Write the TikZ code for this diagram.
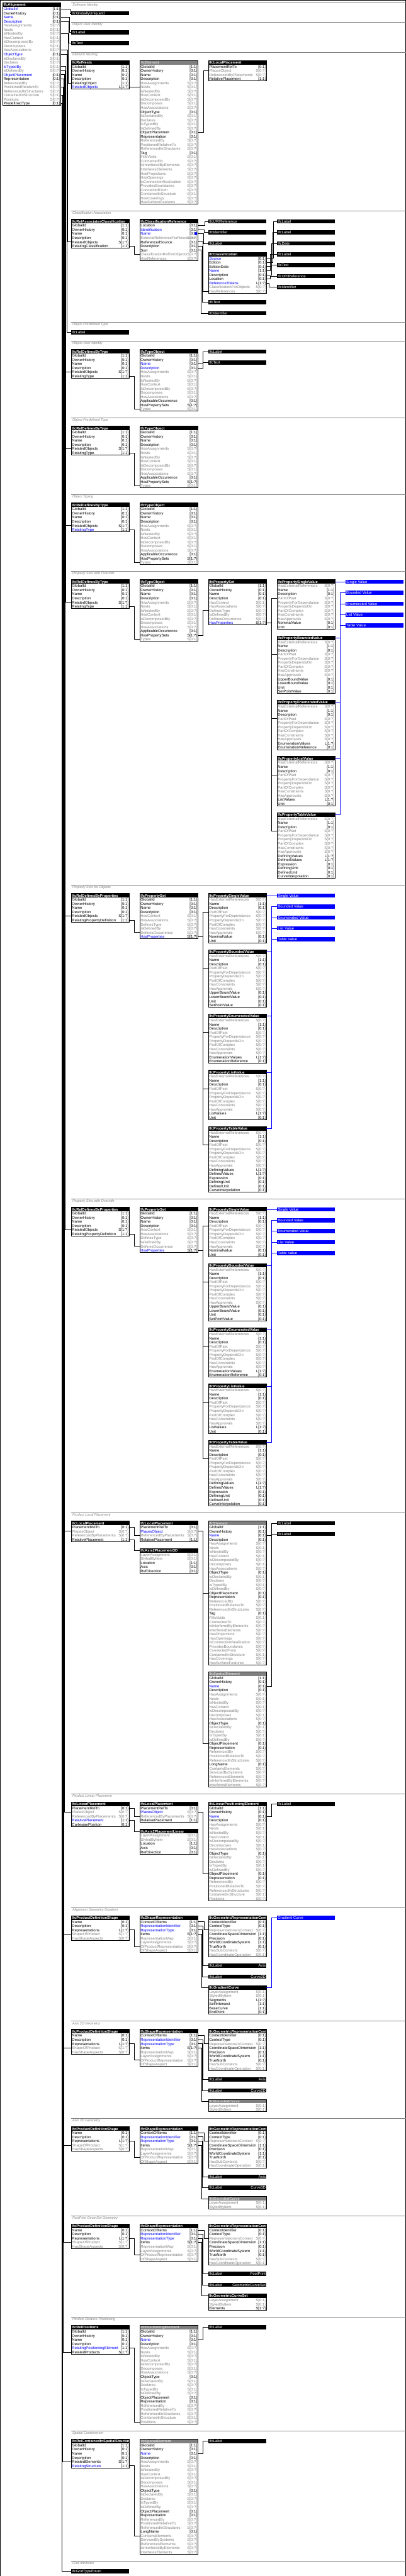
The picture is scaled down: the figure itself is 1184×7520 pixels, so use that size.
\documentclass[tikz,border=0pt]{standalone}
\usepackage{fontspec}
\setmainfont{Liberation Sans}
\definecolor{tgray}{RGB}{128,128,128}
\definecolor{hgray}{RGB}{128,128,128}
\definecolor{tlight}{RGB}{215,215,215}
\definecolor{pblue}{RGB}{0,0,255}
\def\NCk{\color{black}}\def\NCg{\color{tgray}}\def\NCb{\color{pblue}}\def\NCB{\color{pblue}}
\def\CCk{\color{black}}\def\CCg{\color{tgray}}\def\CCb{\color{black}}\def\CCB{\color{tgray}}
\newcommand\rfont{\fontsize{11}{12}\selectfont}
\newcommand\hfont{\fontsize{10.7}{12}\selectfont\bfseries}
\newcommand\stfont{\fontsize{10}{12}\selectfont\itshape}
\def\Lroot#1#2#3#4{GlobalId/[1:1]/#1,OwnerHistory/[0:1]/#2,Name/[0:1]/#3,Description/[0:1]/#4}
\def\Lobj{HasAssignments/S[0:?]/g,Nests/S[0:1]/g,IsNestedBy/S[0:?]/g,HasContext/S[0:1]/g,IsDecomposedBy/S[0:?]/g,Decomposes/S[0:1]/g,HasAssociations/S[0:?]/g}
\def\Lobjb{ObjectType/[0:1]/k,IsDeclaredBy/S[0:1]/g,Declares/S[0:?]/g,IsTypedBy/S[0:1]/g,IsDefinedBy/S[0:?]/g}
\def\Lprod{ObjectPlacement/[0:1]/k,Representation/[0:1]/k,ReferencedBy/S[0:?]/g,PositionedRelativeTo/S[0:?]/g,ReferencedInStructures/S[0:?]/g}
\def\Lelem{Tag/[0:1]/k,FillsVoids/S[0:1]/g,ConnectedTo/S[0:?]/g,IsInterferedByElements/S[0:?]/g,InterferesElements/S[0:?]/g,HasProjections/S[0:?]/g,HasOpenings/S[0:?]/g,IsConnectionRealization/S[0:?]/g,ProvidesBoundaries/S[0:?]/g,ConnectedFrom/S[0:?]/g,ContainedInStructure/S[0:1]/g,HasCoverings/S[0:?]/g,HasSurfaceFeatures/S[0:?]/g}
\def\Lspat{LongName/[0:1]/k,ContainsElements/S[0:?]/g,ServicedBySystems/S[0:?]/g,ReferencesElements/S[0:?]/g,IsInterferedByElements/S[0:?]/g,InterferesElements/S[0:?]/g}
\def\Lpos{ContainedInStructure/S[0:1]/g,Positions/S[0:?]/g}
\def\Ltype{ApplicableOccurrence/[0:1]/k,HasPropertySets/S[1:?]/k,Types/S[0:1]/g}
\def\Lpset{HasContext/S[0:1]/g,HasAssociations/S[0:?]/g,DefinesType/S[0:?]/g,IsDefinedBy/S[0:?]/g,DefinesOccurrence/S[0:?]/g,HasProperties/S[1:?]/b}
\def\Lprop{HasExternalReferences/S[0:?]/g,Name/[1:1]/k,Description/[0:1]/k,PartOfPset/S[0:?]/g,PropertyForDependance/S[0:?]/g,PropertyDependsOn/S[0:?]/g,PartOfComplex/S[0:?]/g,HasConstraints/S[0:?]/g,HasApprovals/S[0:?]/g}
\def\Llp{PlacementRelTo/[0:1]/k,PlacesObject/S[0:?]/g,ReferencedByPlacements/S[0:?]/g,RelativePlacement/[1:1]/k}
\def\Llpb{PlacementRelTo/[0:1]/k,PlacesObject/S[0:?]/B,ReferencedByPlacements/S[0:?]/g,RelativePlacement/[1:1]/k}
\def\Lax{LayerAssignment/S[0:1]/g,StyledByItem/S[0:1]/g,Location/[1:1]/k,Axis/[0:1]/k,RefDirection/[0:1]/k}
\tikzset{
 hdrfill/.style={anchor=north west, minimum width=169pt, minimum height=12pt, inner sep=0pt, draw=none},
 rowtxt/.style={anchor=base west, inner sep=0pt, font=\rfont},
 cardtxt/.style={anchor=base east, inner sep=0pt, font=\rfont},
 titletxt/.style={anchor=base west, inner sep=0pt, font=\hfont},
 boxline/.style={draw=black, line width=1pt},
 conn/.style={draw=black, line width=1pt},
 bconn/.style={draw=pblue, line width=1pt},
 secline/.style={draw=tgray, line width=1pt},
 sectxt/.style={anchor=base west, inner sep=0pt, font=\stfont, text=tgray},
 frame/.style={draw=black, line width=1pt}
}
\newcount\nrows
\newcommand\tbl[6]{%
 \edef\tbllist{#6}%
 \global\nrows=0\relax
 \foreach \rn/\rc/\rk in \tbllist {\global\advance\nrows by 1\relax}%
 \node[hdrfill, fill=#5] (#1) at (#2,#3) {};
 \def\tmpa{#5}\def\tmpb{hgray}%
 \ifx\tmpa\tmpb\def\ttc{tlight}\else\def\ttc{white}\fi
 \begin{scope}
 \clip ({#2},{#3}) rectangle ++(168,12);
 \node[titletxt, text=\ttc] at ({#2+2},{#3+10.3}) {#4};
 \end{scope}
 \foreach \rn/\rc/\rk [count=\i] in \tbllist {%
  \coordinate (#1-\i) at ({#2},{#3+12*\i+6});
  \coordinate (#1-\i-e) at ({#2+169},{#3+12*\i+6});
  \node[rowtxt] at ({#2+2},{#3+12*\i+10.5}) {\csname NC\rk\endcsname\rn};
  \node[cardtxt] at ({#2+167},{#3+12*\i+10.5}) {\csname CC\rk\endcsname\rc};
 }%
 \pgfmathsetmacro\tblh{12+12*\the\nrows}%
 \draw[boxline] ({#2},{#3}) rectangle ++(169,\tblh);
}
\newcommand\sbx[6]{%
 \node[hdrfill, fill=#4] (#1) at ({#2},{#3}) {};
 \node[anchor=base west, inner sep=0pt, font=\rfont, text=white] at ({#2+2},{#3+10.3}) {#5};
 \node[anchor=base east, inner sep=0pt, font=\rfont, text=white] at ({#2+167},{#3+10.3}) {#6};
}
\newcommand\sect[2]{%
 \draw[secline] (208,#1) -- (1184,#1);
 \node[sectxt] at (211,{#1+10}) {#2};
}
\newcommand\props[4]{%
 \tbl{#1s}{#2}{#3}{IfcPropertySingleValue}{black}{\Lprop,NominalValue/[0:1]/k,Unit/[0:1]/k}%
 \tbl{#1b}{#2}{#3+164}{IfcPropertyBoundedValue}{black}{\Lprop,UpperBoundValue/[0:1]/k,LowerBoundValue/[0:1]/k,Unit/[0:1]/k,SetPointValue/[0:1]/k}%
 \tbl{#1e}{#2}{#3+352}{IfcPropertyEnumeratedValue}{black}{\Lprop,EnumerationValues/L[1:?]/k,EnumerationReference/[0:1]/k}%
 \tbl{#1l}{#2}{#3+516}{IfcPropertyListValue}{black}{\Lprop,ListValues/L[1:?]/k,Unit/[0:1]/k}%
 \tbl{#1t}{#2}{#3+680}{IfcPropertyTableValue}{black}{\Lprop,DefiningValues/L[1:?]/k,DefinedValues/L[1:?]/k,Expression/[0:1]/k,DefiningUnit/[0:1]/k,DefinedUnit/[0:1]/k,CurveInterpolation/[0:1]/k}%
 \sbx{#1B1}{#2+200}{#3}{pblue}{Single Value}{}%
 \sbx{#1B2}{#2+200}{#3+32}{pblue}{Bounded Value}{}%
 \sbx{#1B3}{#2+200}{#3+64}{pblue}{Enumerated Value}{}%
 \sbx{#1B4}{#2+200}{#3+96}{pblue}{List Value}{}%
 \sbx{#1B5}{#2+200}{#3+128}{pblue}{Table Value}{}%
 \foreach \pp in {s,b,e,l,t}{\draw[conn] (#4-10-e) -- ++(15,0) |- (#1\pp-4);}%
 \draw[bconn] (#1s.east) -- (#1B1.west);
 \foreach \pp/\uu in {b/2,e/3,l/4,t/5}{\draw[bconn] (#1\pp.east) -- ++(15,0) |- (#1B\uu.west);}%
}
\newcommand\geom[7]{%
 \tbl{#1pds}{208}{#2}{IfcProductDefinitionShape}{black}{Name/[0:1]/k,Description/[0:1]/k,Representations/L[1:?]/k,ShapeOfProduct/S[1:?]/g,HasShapeAspects/S[0:?]/g}%
 \tbl{#1sr}{408}{#2}{IfcShapeRepresentation}{black}{ContextOfItems/[1:1]/k,RepresentationIdentifier/[0:1]/b,RepresentationType/[0:1]/b,Items/S[1:?]/k,RepresentationMap/S[0:1]/g,LayerAssignments/S[0:?]/g,OfProductRepresentation/S[0:?]/g,OfShapeAspect/S[0:1]/g}%
 \tbl{#1gc}{608}{#2}{IfcGeometricRepresentationContext}{black}{ContextIdentifier/[0:1]/k,ContextType/[0:1]/k,RepresentationsInContext/S[0:?]/g,CoordinateSpaceDimension/[1:1]/k,Precision/[0:1]/k,WorldCoordinateSystem/[1:1]/k,TrueNorth/[0:1]/k,HasSubContexts/S[0:?]/g,HasCoordinateOperation/S[0:1]/g}%
 \sbx{#1la}{608}{#2+140}{black}{IfcLabel}{#3}%
 \sbx{#1lb}{608}{#2+172}{black}{IfcLabel}{#4}%
 \tbl{#1it}{608}{#2+204}{#5}{#6}{#7}%
 \draw[conn] (#1pds-3-e) -- ++(15,0) |- (#1sr-7);
 \draw[conn] (#1sr-1-e) -- ++(19,0) |- (#1gc-3);
 \draw[conn] (#1sr-2-e) -- ++(15,0) |- (#1la.west);
 \draw[conn] (#1sr-3-e) -- ++(13,0) |- (#1lb.west);
 \draw[conn] (#1sr-4-e) -- ++(11,0) |- (#1it.west);
}
\newcommand\bus[3]{\draw[conn] (Al-#1-e) -- ++(#2,0) |- (#3);}
\begin{document}
\begin{tikzpicture}[x=1pt,y=-1pt]
\useasboundingbox (0,0) rectangle (1184,7520);
\draw[frame] (0.5,0.5) rectangle (1183.5,7519.5);
% main entity
\tbl{Al}{8}{8}{IfcAlignment}{black}{GlobalId/[1:1]/b,OwnerHistory/[0:1]/k,Name/[0:1]/b,Description/[0:1]/b,\Lobj,ObjectType/[0:1]/b,IsDeclaredBy/S[0:1]/g,Declares/S[0:?]/g,IsTypedBy/S[0:1]/B,IsDefinedBy/S[0:?]/g,ObjectPlacement/[0:1]/b,Representation/[0:1]/k,ReferencedBy/S[0:?]/g,PositionedRelativeTo/S[0:?]/g,ReferencedInStructures/S[0:?]/g,ContainedInStructure/S[0:1]/g,Positions/S[0:?]/g,PredefinedType/[0:1]/k}
% A Software Identity
\sect{8}{Software Identity}
\sbx{GUID}{208}{32}{black}{IfcGloballyUniqueId}{}
% B Object User Identity
\sect{64}{Object User Identity}
\sbx{BL}{208}{88}{black}{IfcLabel}{}
\sbx{BT}{208}{120}{black}{IfcText}{}
% C Element Nesting
\sect{152}{Element Nesting}
\tbl{Nn}{208}{176}{IfcRelNests}{black}{\Lroot kkkk,RelatingObject/[1:1]/k,RelatedObjects/L[1:?]/b}
\tbl{Nel}{408}{176}{IfcElement}{hgray}{\Lroot kkkk,\Lobj,\Lobjb,\Lprod,\Lelem}
\tbl{Nlp}{608}{176}{IfcLocalPlacement}{black}{\Llp}
\draw[conn] (Nn-6-e) -- (Nel-6);
\draw[conn] (Nel-17-e) -- ++(16,0) |- (Nlp-2);
% D Classification Association
\sect{616}{Classification Association}
\tbl{RAC}{208}{640}{IfcRelAssociatesClassification}{black}{\Lroot kkkk,RelatedObjects/S[1:?]/k,RelatingClassification/[1:1]/k}
\tbl{CR}{408}{640}{IfcClassificationReference}{black}{Location/[0:1]/k,Identification/[0:1]/b,Name/[0:1]/b,ExternalReferenceForResources/S[0:?]/g,ReferencedSource/[0:1]/k,Description/[0:1]/k,Sort/[0:1]/k,ClassificationRefForObjects/S[0:?]/g,HasReferences/S[0:?]/g}
\fill[pblue] (571,682) circle (4.5);
\sbx{Da}{608}{640}{black}{IfcURIReference}{}
\sbx{Db}{608}{672}{black}{IfcIdentifier}{}
\sbx{Dc}{608}{704}{black}{IfcLabel}{}
\tbl{CL}{608}{736}{IfcClassification}{black}{Source/[0:1]/b,Edition/[0:1]/k,EditionDate/[0:1]/k,Name/[1:1]/b,Description/[0:1]/k,Location/[0:1]/k,ReferenceTokens/L[1:?]/b,ClassificationForObjects/S[0:?]/g,HasReferences/S[0:?]/g}
\sbx{Dd}{608}{876}{black}{IfcText}{}
\sbx{De}{608}{908}{black}{IfcIdentifier}{}
\sbx{Ea}{808}{640}{black}{IfcLabel}{}
\sbx{Eb}{808}{672}{black}{IfcLabel}{}
\sbx{Ec}{808}{704}{black}{IfcDate}{}
\sbx{Ed}{808}{736}{black}{IfcLabel}{}
\sbx{Ee}{808}{768}{black}{IfcText}{}
\sbx{Ef}{808}{800}{black}{IfcURIReference}{}
\sbx{Eg}{808}{832}{black}{IfcIdentifier}{}
\draw[conn] (RAC-6-e) -- ++(15,0) |- (CR-8);
\draw[conn] (CR-1-e) -- ++(20,0) |- (Da.west);
\draw[conn] (CR-2-e) -- ++(18,0) |- (Db.west);
\draw[conn] (CR-3-e) -- ++(16,0) |- (Dc.west);
\draw[conn] (CR-5-e) -- ++(14,0) |- (CL-9);
\draw[conn] (CR-6-e) -- ++(12,0) |- (Dd.west);
\draw[conn] (CR-7-e) -- ++(10,0) |- (De.west);
\draw[conn] (CL-1-e) -- ++(21,0) |- (Ea.west);
\draw[conn] (CL-2-e) -- ++(18,0) |- (Eb.west);
\draw[conn] (CL-3-e) -- ++(15,0) |- (Ec.west);
\draw[conn] (CL-4-e) -- ++(12,0) |- (Ed.west);
\draw[conn] (CL-5-e) -- ++(14,0) |- (Ee.west);
\draw[conn] (CL-6-e) -- ++(11,0) |- (Ef.west);
\draw[conn] (CL-7-e) -- ++(8,0) |- (Eg.west);
% E Object Predefined Type
\sect{940}{Object Predefined Type}
\sbx{OPL}{208}{964}{black}{IfcLabel}{}
% F Object User Identity
\sect{996}{Object User Identity}
\tbl{Frel}{208}{1020}{IfcRelDefinesByType}{black}{\Lroot kkkk,RelatedObjects/S[1:?]/k,RelatingType/[1:1]/k}
\tbl{Ftyp}{408}{1020}{IfcTypeObject}{black}{\Lroot kkbb,\Lobj,\Ltype}
\sbx{FL}{608}{1020}{black}{IfcLabel}{}
\sbx{FT}{608}{1052}{black}{IfcText}{}
\draw[conn] (Frel-6-e) -- ++(15,0) |- (Ftyp-14);
\draw[conn] (Ftyp-3-e) -- ++(15,0) |- (FL.west);
\draw[conn] (Ftyp-4-e) -- ++(15,0) |- (FT.west);
% G Object Predefined Type
\sect{1220}{Object Predefined Type}
\tbl{Grel}{208}{1244}{IfcRelDefinesByType}{black}{\Lroot kkkk,RelatedObjects/S[1:?]/k,RelatingType/[1:1]/k}
\tbl{Gtyp}{408}{1244}{IfcTypeObject}{black}{\Lroot kkkk,\Lobj,\Ltype}
\draw[conn] (Grel-6-e) -- ++(15,0) |- (Gtyp-14);
% H Object Typing
\sect{1444}{Object Typing}
\tbl{Hrel}{208}{1468}{IfcRelDefinesByType}{black}{\Lroot kkkk,RelatedObjects/S[1:?]/k,RelatingType/[1:1]/b}
\tbl{Htyp}{408}{1468}{IfcTypeObject}{black}{\Lroot kkkk,\Lobj,\Ltype}
\draw[conn] (Hrel-6-e) -- ++(15,0) |- (Htyp-14);
% I Property Sets with Override
\sect{1668}{Property Sets with Override}
\tbl{Irel}{208}{1692}{IfcRelDefinesByType}{black}{\Lroot kkkk,RelatedObjects/S[1:?]/k,RelatingType/[1:1]/k}
\tbl{Ityp}{408}{1692}{IfcTypeObject}{black}{\Lroot kkkk,\Lobj,\Ltype}
\tbl{Ips}{608}{1692}{IfcPropertySet}{black}{\Lroot kkkk,\Lpset}
\draw[conn] (Irel-6-e) -- ++(15,0) |- (Ityp-14);
\draw[conn] (Ityp-13-e) -- ++(15,0) |- (Ips-7);
\props{I}{808}{1692}{Ips}
% J Property Sets for Objects
\sect{2584}{Property Sets for Objects}
\tbl{Jrel}{208}{2608}{IfcRelDefinesByProperties}{black}{\Lroot kkkk,RelatedObjects/S[1:?]/k,RelatingPropertyDefinition/[1:1]/k}
\tbl{Jps}{408}{2608}{IfcPropertySet}{black}{\Lroot kkkk,\Lpset}
\draw[conn] (Jrel-6-e) -- ++(15,0) |- (Jps-9);
\props{J}{608}{2608}{Jps}
% K Property Sets with Override
\sect{3500}{Property Sets with Override}
\tbl{Krel}{208}{3524}{IfcRelDefinesByProperties}{black}{\Lroot kkkk,RelatedObjects/S[1:?]/k,RelatingPropertyDefinition/[1:1]/k}
\tbl{Kps}{408}{3524}{IfcPropertySet}{black}{\Lroot kkkk,\Lpset}
\draw[conn] (Krel-6-e) -- ++(15,0) |- (Kps-9);
\props{K}{608}{3524}{Kps}
% L Product Local Placement
\sect{4416}{Product Local Placement}
\tbl{Llp1}{208}{4440}{IfcLocalPlacement}{black}{\Llp}
\tbl{Llp2}{408}{4440}{IfcLocalPlacement}{black}{\Llpb}
\tbl{Lax}{408}{4520}{IfcAxis2Placement3D}{black}{\Lax}
\tbl{Lel}{608}{4440}{IfcElement}{hgray}{\Lroot kkbk,\Lobj,\Lobjb,\Lprod,\Lelem}
\tbl{Lsp}{608}{4880}{IfcSpatialElement}{hgray}{\Lroot kkbk,\Lobj,\Lobjb,\Lprod,\Lspat}
\sbx{LL1}{808}{4440}{black}{IfcLabel}{}
\sbx{LL2}{808}{4472}{black}{IfcLabel}{}
\draw[conn] (Llp1-1-e) -- ++(15,0) |- (Llp2-3);
\draw[conn] (Llp1-4-e) -- ++(15,0) |- (Lax.west);
\draw[conn] (Llp2-2-e) -- ++(15,0) |- (Lel-17);
\draw[conn] (Llp2-2-e) -- ++(15,0) |- (Lsp-17);
\draw[conn] (Lel-3-e) -- ++(15,0) |- (LL2.west);
\draw[conn] (Lsp-3-e) -- ++(15,0) |- (LL1.west);
% M Product Linear Placement
\sect{5236}{Product Linear Placement}
\tbl{Mlin}{208}{5260}{IfcLinearPlacement}{black}{PlacementRelTo/[0:1]/k,PlacesObject/S[0:?]/g,ReferencedByPlacements/S[0:?]/g,RelativePlacement/[1:1]/b,CartesianPosition/[0:1]/k}
\tbl{Mlp}{408}{5260}{IfcLocalPlacement}{black}{\Llpb}
\tbl{Max}{408}{5340}{IfcAxis2PlacementLinear}{black}{\Lax}
\tbl{Mpe}{608}{5260}{IfcLinearPositioningElement}{black}{\Lroot kkbk,\Lobj,\Lobjb,\Lprod,\Lpos}
\sbx{ML}{808}{5260}{black}{IfcLabel}{}
\draw[conn] (Mlin-1-e) -- ++(15,0) |- (Mlp-3);
\draw[conn] (Mlin-4-e) -- ++(15,0) |- (Max.west);
\draw[conn] (Mlp-2-e) -- ++(15,0) |- (Mpe-17);
\draw[conn] (Mpe-3-e) -- ++(15,0) |- (ML.west);
% N Alignment Geometry Gradient
\sect{5568}{Alignment Geometry Gradient}
\geom{N}{5592}{Axis}{Curve3D}{IfcGradientCurve}{black}{LayerAssignment/S[0:1]/g,StyledByItem/S[0:1]/g,Segments/L[1:?]/k,SelfIntersect/[1:1]/k,BaseCurve/[1:1]/k,EndPoint/[0:1]/k}
\sbx{Nbc}{808}{5592}{pblue}{Gradient Curve}{}
\draw[bconn] (Nit.east) -- ++(15,0) |- (Nbc.west);
% O Axis 2D Geometry
\sect{5900}{Axis 2D Geometry}
\geom{O}{5924}{Axis}{Curve2D}{IfcBoundedCurve}{hgray}{LayerAssignment/S[0:1]/g,StyledByItem/S[0:1]/g}
% P Axis 3D Geometry
\sect{6184}{Axis 3D Geometry}
\geom{P}{6208}{Axis}{Curve3D}{IfcBoundedCurve}{hgray}{LayerAssignment/S[0:1]/g,StyledByItem/S[0:1]/g}
% Q FootPrint GeomSet Geometry
\sect{6468}{FootPrint GeomSet Geometry}
\geom{Q}{6492}{FootPrint}{GeometricCurveSet}{IfcGeometricCurveSet}{black}{LayerAssignment/S[0:1]/g,StyledByItem/S[0:1]/g,Elements/S[1:?]/k}
% R Product Relative Positioning
\sect{6764}{Product Relative Positioning}
\tbl{Rrp}{208}{6788}{IfcRelPositions}{black}{\Lroot kkkk,RelatingPositioningElement/[1:1]/b,RelatedProducts/S[1:?]/k}
\tbl{Rpe}{408}{6788}{IfcPositioningElement}{hgray}{\Lroot kkbk,\Lobj,\Lobjb,\Lprod,\Lpos}
\sbx{RL}{608}{6788}{black}{IfcLabel}{}
\draw[conn] (Rrp-5-e) -- ++(15,0) |- (Rpe-23);
\draw[conn] (Rpe-3-e) -- ++(15,0) |- (RL.west);
% S Spatial Containment
\sect{7096}{Spatial Containment}
\tbl{Src}{208}{7120}{IfcRelContainedInSpatialStructure}{black}{\Lroot kkkk,RelatedElements/S[1:?]/k,RelatingStructure/[1:1]/b}
\tbl{Ssp}{408}{7120}{IfcSpatialElement}{hgray}{\Lroot kkbk,\Lobj,\Lobjb,\Lprod,\Lspat}
\sbx{SL}{608}{7120}{black}{IfcLabel}{}
\draw[conn] (Src-6-e) -- ++(15,0) |- (Ssp-23);
\draw[conn] (Ssp-3-e) -- ++(15,0) |- (SL.west);
% T Grid Attributes
\sect{7476}{Grid Attributes}
\sbx{Grid}{208}{7500}{black}{IfcGridTypeEnum}{}
% bus from IfcAlignment
\bus{1}{27.7}{GUID.west}
\bus{3}{25}{BL.west}
\bus{4}{22.8}{BT.west}
\bus{7}{21.2}{Nn-5}
\bus{11}{19.3}{RAC-5}
\bus{12}{17.4}{OPL.west}
\bus{15}{15}{Frel-5}
\bus{15}{15}{Grel-5}
\bus{15}{15}{Hrel-5}
\bus{15}{15}{Irel-5}
\bus{16}{13.2}{Jrel-5}
\bus{16}{13.2}{Krel-5}
\bus{17}{10.5}{Llp1-2}
\bus{17}{10.5}{Mlin-2}
\bus{18}{8.6}{Npds-4}
\bus{18}{8.6}{Opds-4}
\bus{18}{8.6}{Ppds-4}
\bus{18}{8.6}{Qpds-4}
\bus{20}{6.7}{Rrp-6}
\bus{22}{4.8}{Src-5}
\bus{24}{2.9}{Grid.west}
\end{tikzpicture}
\end{document}
